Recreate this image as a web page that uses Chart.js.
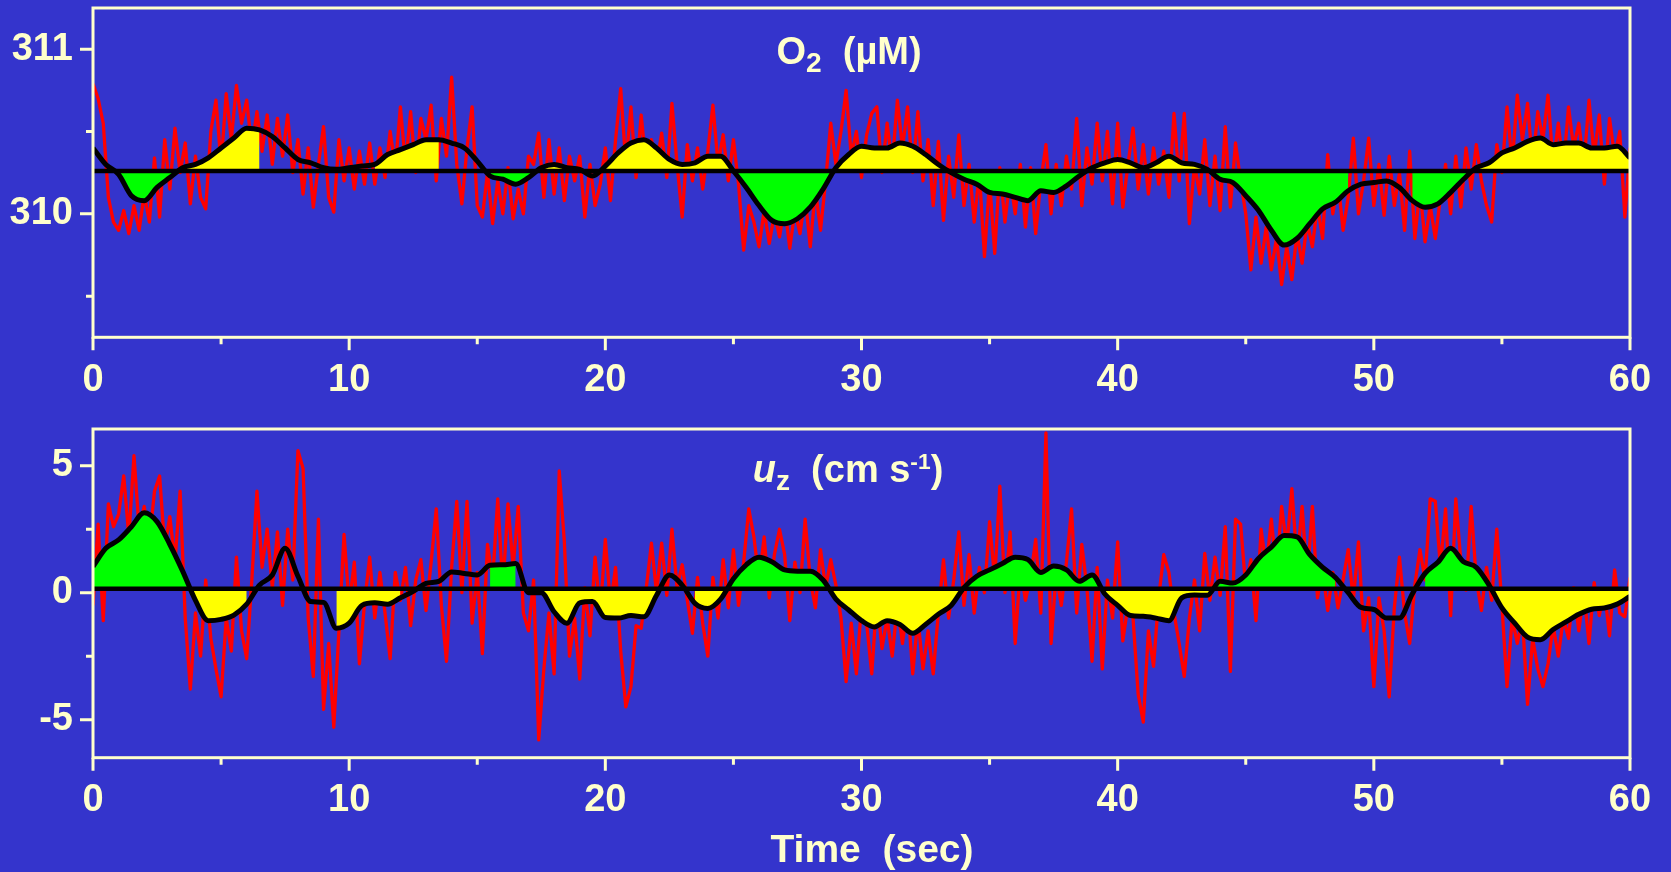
<!DOCTYPE html>
<html>
<head>
<meta charset="utf-8">
<script src="https://cdn.jsdelivr.net/npm/chart.js@4.4.0/dist/chart.umd.min.js"></script>
<style>
  body { margin: 0; background: #3434cc; width: 1671px; height: 872px; overflow: hidden; position: relative; }
  canvas { position: absolute; left: 0; }
  #c1 { top: 0; }
  #c2 { top: 421px; }
  .ttl { position: absolute; color: #ffffcc; font: bold 38px "Liberation Sans", Arial, sans-serif; white-space: pre; line-height: 38px; transform: translateX(-50%); }
  .ttl sub { font-size: 0.74em; vertical-align: -0.3em; line-height: 0; }
  .ttl sup { font-size: 0.6em; vertical-align: 0.55em; line-height: 0; }
</style>
</head>
<body>
<canvas id="c1" width="1671" height="420"></canvas>
<canvas id="c2" width="1671" height="451"></canvas>
<div class="ttl" style="left:849px; top:32px">O<sub>2</sub>  (µM)</div>
<div class="ttl" style="left:848px; top:450px"><i>u</i><sub>z</sub>  (cm s<sup>-1</sup>)</div>
<div class="ttl" style="left:872px; top:830px; font-size:39px">Time  (sec)</div>
<script>
var cream = '#ffffcc';

// sampling steps (sec)
var rawStep = 0.2;
var smoothStep = 0.5;

var xTicks = [0, 5, 10, 15, 20, 25, 30, 35, 40, 45, 50, 55, 60];
var o2Ticks = [309.5, 310, 310.5, 311];
var uzTicks = [-5, -2.5, 0, 2.5, 5];

var o2Base = 310.26;
var uzBase = 0.16;

// O2 raw signal, every 0.2 s
var o2Raw = [
  310.79, 310.70, 310.55, 310.10, 309.95,
  309.90, 310.02, 309.88, 310.05, 309.90,
  310.12, 309.95, 310.34, 309.98, 310.45,
  310.15, 310.52, 310.25, 310.43, 310.06,
  310.35, 310.10, 310.03, 310.50, 310.69,
  310.30, 310.73, 310.45, 310.78, 310.55,
  310.69, 310.40, 310.62, 310.38, 310.60,
  310.30, 310.58, 310.35, 310.60, 310.25,
  310.45, 310.12, 310.40, 310.04, 310.30,
  310.53, 310.10, 310.01, 310.45, 310.20,
  310.40, 310.15, 310.38, 310.18, 310.43,
  310.18, 310.40, 310.22, 310.50, 310.28,
  310.65, 310.30, 310.62, 310.25, 310.58,
  310.45, 310.66, 310.20, 310.58, 310.35,
  310.83, 310.30, 310.06, 310.40, 310.65,
  310.05, 309.98, 310.25, 309.94, 310.20,
  310.00, 310.28, 309.97, 310.15, 310.00,
  310.35, 310.30, 310.49, 310.10, 310.45,
  310.12, 310.40, 310.08, 310.35, 310.20,
  310.35, 309.98, 310.30, 310.05, 310.18,
  310.40, 310.08, 310.45, 310.76, 310.30,
  310.65, 310.22, 310.60, 310.28, 310.45,
  310.30, 310.49, 310.22, 310.67, 310.30,
  309.98, 310.42, 310.20, 310.40, 310.15,
  310.38, 310.66, 310.30, 310.48, 310.20,
  310.45, 310.18, 309.78, 310.05, 309.95,
  309.80, 310.02, 309.82, 310.00, 309.86,
  310.05, 309.79, 310.02, 309.88, 310.10,
  309.80, 310.15, 309.90, 310.20, 310.55,
  310.30, 310.50, 310.75, 310.35, 310.50,
  310.22, 310.48, 310.61, 310.65, 310.25,
  310.55, 310.30, 310.69, 310.40, 310.65,
  310.25, 310.62, 310.20, 310.45, 310.05,
  310.44, 309.96, 310.35, 310.10, 310.48,
  310.05, 310.30, 309.95, 310.25, 309.74,
  310.20, 309.76, 310.28, 309.95, 310.22,
  310.00, 310.30, 309.92, 310.28, 309.88,
  310.20, 310.42, 310.00, 310.30, 310.05,
  310.35, 310.15, 310.58, 310.05, 310.40,
  310.18, 310.55, 310.20, 310.50, 310.06,
  310.55, 310.04, 310.30, 310.52, 310.15,
  310.42, 310.12, 310.40, 310.18, 310.38,
  310.10, 310.61, 310.20, 310.61, 309.94,
  310.30, 310.12, 310.45, 310.05, 310.35,
  310.02, 310.53, 310.04, 310.43, 310.20,
  310.00, 309.66, 309.98, 309.70, 309.92,
  309.66, 309.85, 309.57, 309.80, 309.60,
  309.88, 309.70, 309.95, 309.80, 310.05,
  309.85, 310.36, 310.00, 310.20, 309.90,
  310.10, 310.46, 310.00, 310.20, 310.46,
  310.05, 310.30, 309.99, 310.35, 310.05,
  310.25, 309.90, 310.38, 309.85, 310.15,
  309.83, 310.05, 309.85, 310.10, 310.30,
  310.00, 310.35, 310.04, 310.40, 310.15,
  310.42, 310.20, 310.05, 309.95, 310.42,
  310.25, 310.65, 310.30, 310.72, 310.45,
  310.67, 310.30, 310.62, 310.45, 310.72,
  310.30, 310.55, 310.28, 310.65, 310.40,
  310.55, 310.30, 310.69, 310.35, 310.60,
  310.18, 310.58, 310.35, 310.50, 309.98,
  310.40
];

// O2 running mean, every 0.5 s
var o2Smooth = [
  310.40, 310.30, 310.24, 310.11, 310.08, 310.16, 310.22, 310.28, 310.30, 310.34,
  310.40, 310.46, 310.52, 310.51, 310.47, 310.40, 310.33, 310.31, 310.28, 310.27,
  310.28, 310.29, 310.30, 310.36, 310.39, 310.42, 310.45, 310.45, 310.43, 310.40,
  310.32, 310.23, 310.21, 310.18, 310.22, 310.28, 310.30, 310.28, 310.27, 310.23,
  310.29, 310.37, 310.43, 310.45, 310.40, 310.33, 310.30, 310.31, 310.35, 310.35,
  310.26, 310.16, 310.05, 309.96, 309.94, 309.97, 310.04, 310.15, 310.28, 310.36,
  310.41, 310.40, 310.40, 310.43, 310.41, 310.36, 310.30, 310.25, 310.21, 310.18,
  310.13, 310.12, 310.10, 310.08, 310.14, 310.13, 310.17, 310.23, 310.28, 310.31,
  310.33, 310.31, 310.28, 310.31, 310.35, 310.31, 310.30, 310.27, 310.21, 310.19,
  310.11, 310.02, 309.90, 309.81, 309.85, 309.94, 310.03, 310.07, 310.14, 310.18,
  310.19, 310.20, 310.16, 310.08, 310.04, 310.06, 310.13, 310.21, 310.28, 310.31,
  310.37, 310.40, 310.44, 310.46, 310.42, 310.43, 310.43, 310.40, 310.40, 310.41,
  310.34
];

// vertical velocity raw signal, every 0.2 s
var uzRaw = [
  -0.5, 2.7, -1.1, 3.5, 2.6,
  3.1, 4.6, 2.2, 5.4, 2.5,
  3.4, 2.0, 4.0, 4.6, 1.8,
  3.0, 1.2, 4.0, -1.0, -3.8,
  -0.8, -2.5, 0.5, -1.8, -3.0,
  -4.1, -1.0, -2.3, 1.4, -1.5,
  -2.6, 0.5, 4.0, 1.0, 2.5,
  0.2, 2.4, -0.5, 2.5, 0.5,
  5.6, 4.9, -1.0, -3.3, 2.9,
  -4.6, -2.0, -5.3, -1.5, 2.3,
  -0.5, 1.2, -2.8, -0.4, 1.4,
  -1.0, 0.8, -0.8, -2.6, 0.8,
  -0.3, 1.0, -1.3, 0.5, 1.3,
  -0.7, 1.2, 3.3, -0.5, -2.7,
  1.0, 3.6, 0.0, 3.6, -1.2,
  0.8, -2.4, 1.9, 0.5, 3.7,
  0.2, 3.5, 1.0, 3.4, -0.8,
  -1.5, 0.5, -5.8, -3.0, -0.8,
  -3.2, 4.8, 2.0, -2.5, -1.0,
  -3.4, 0.2, -1.7, 1.4, -0.8,
  2.1, -0.5, 1.0, -2.3, -4.5,
  -3.7, -1.3, -1.4, 0.2, 1.95,
  0.0, 1.95, -0.1, 2.5, 0.2,
  1.1, -0.3, -1.6, 0.6, -1.2,
  -2.5, 0.6, -1.0, 1.3, -0.6,
  1.7, -0.5, 1.2, 3.3, 2.2,
  0.5, 2.2, -0.2, 1.5, 2.5,
  1.5, -1.1, 1.2, 0.0, 2.9,
  0.5, -0.6, 1.7, 0.2, 1.3,
  0.3, -1.0, -3.5, -1.2, -3.2,
  -0.5, -1.2, -3.2, -0.2, -2.2,
  -1.0, -2.5, -0.5, -2.0, -0.4,
  -3.2, -1.0, -3.0, -1.5, -3.2,
  -0.8, 1.3, -1.0, 0.5, 2.4,
  -0.5, 1.5, -0.8, 1.0, 0.0,
  2.8, 0.5, 4.2, 0.0, 2.4,
  -2.0, 1.0, -0.3, 0.6, 2.1,
  -0.8, 6.3, -2.0, 0.8, -0.5,
  1.2, 3.3, -0.8, 1.9, 0.2,
  -2.7, 1.0, -3.0, 0.5, -1.0,
  2.0, -1.9, -0.5, -1.0, -4.0,
  -5.1, -1.5, -2.9, -0.2, 1.5,
  0.8, -0.8, -2.0, -3.3, -1.0,
  0.5, -1.5, 1.55, -0.3, 1.4,
  -0.1, 2.6, -3.1, 2.9, 2.7,
  0.2, 1.3, -1.1, 2.5, 1.0,
  2.9, 0.8, 3.4, 1.8, 4.1,
  1.2, 3.4, 0.5, 3.4, -0.2,
  0.9, -0.7, 0.8, -0.6, 0.5,
  1.7, -0.3, 2.0, -1.5, -0.2,
  -3.7, -0.2, -1.5, -4.1, -0.6,
  1.4, -0.8, -2.0, 0.3, 1.7,
  0.5, 3.7, 3.6, 1.0, 3.3,
  -0.9, 3.7, 1.2, 0.1, 3.4,
  0.5, -0.7, 1.0, -0.3, 2.5,
  -0.5, -3.7, -1.0, -2.0, -1.0,
  -4.4, -1.8, -3.0, -3.7, -2.8,
  -1.3, -2.5, -1.0, -1.8, 0.2,
  -1.5, 0.0, -2.0, 0.4, -0.9,
  0.1, -1.7, 0.9, -0.8, -0.95,
  0.6
];

// vertical velocity running mean, every 0.5 s
var uzSmooth = [
  1.03, 1.75, 2.08, 2.6, 3.15, 2.8, 1.9, 0.85, -0.3, -1.1,
  -1.05, -0.88, -0.45, 0.3, 0.7, 1.75, 0.65, -0.35, -0.38, -1.4,
  -1.2, -0.5, -0.4, -0.45, -0.2, 0.05, 0.37, 0.45, 0.82, 0.76,
  0.7, 1.08, 1.1, 1.15, 0.0, 0.0, -0.75, -1.2, -0.4, -0.35,
  -0.98, -1.0, -0.9, -0.95, -0.1, 0.7, 0.3, -0.42, -0.62, -0.25,
  0.55, 1.1, 1.4, 1.22, 0.9, 0.85, 0.85, 0.5, -0.25, -0.68,
  -1.1, -1.35, -1.1, -1.25, -1.6, -1.25, -0.85, -0.5, 0.2, 0.65,
  0.9, 1.15, 1.4, 1.3, 0.8, 1.05, 0.9, 0.45, 0.7, -0.05,
  -0.5, -0.9, -0.93, -1.0, -1.1, -0.2, -0.09, -0.1, 0.45, 0.38,
  0.7, 1.35, 1.8, 2.25, 2.2, 1.5, 1.0, 0.6, 0.0, -0.58,
  -0.66, -1.0, -1.0, -0.05, 0.76, 1.2, 1.75, 1.22, 1.0, 0.3,
  -0.6, -1.2, -1.75, -1.85, -1.45, -1.15, -0.85, -0.65, -0.6, -0.45,
  -0.15
];

// shaded stretches [start, end] in sec
var o2FillRanges = [[1, 3], [3.5, 6.5], [11, 13.5], [15.5, 17], [17.5, 18.5], [20, 49], [51.5, 60]];
var uzFillRanges = [[0, 6], [9.5, 12], [15.5, 16.5], [17.5, 22], [23.5, 24.5], [25, 48.5], [52, 60]];

Chart.defaults.font.family = '"Liberation Sans", Arial, sans-serif';

function toPoints(arr, step) {
    return arr.map(function(v, i) { return { x: Math.round(i * step * 100) / 100, y: v }; });
}

function toFillPoints(arr, step, ranges) {
    return arr.map(function(v, i) {
        var t = Math.round(i * step * 100) / 100;
        var on = ranges.some(function(r) { return t >= r[0] && t <= r[1]; });
        return { x: t, y: on ? v : null };
    });
}

// frame round the plot plus major / minor tick marks
function frameAndTicks(xMajor, yMajor) {
    return {
        id: 'frameAndTicks',
        afterDraw: function(chart) {
            var ctx = chart.ctx, a = chart.chartArea, sx = chart.scales.x, sy = chart.scales.y;
            ctx.save();
            ctx.strokeStyle = cream;
            ctx.lineWidth = 3;
            ctx.strokeRect(a.left, a.top, a.right - a.left, a.bottom - a.top);
            ctx.beginPath();
            sx.ticks.forEach(function(t) {
                var px = sx.getPixelForValue(t.value);
                var len = (t.value % xMajor === 0) ? 13 : 7;
                ctx.moveTo(px, a.bottom);
                ctx.lineTo(px, a.bottom + len);
            });
            sy.ticks.forEach(function(t) {
                var py = sy.getPixelForValue(t.value);
                var len = (Math.abs(t.value % yMajor) < 1e-9) ? 13 : 7;
                ctx.moveTo(a.left, py);
                ctx.lineTo(a.left - len, py);
            });
            ctx.stroke();
            ctx.restore();
        }
    };
}

function montarPainel(id, o) {
    var ctx = document.getElementById(id).getContext('2d');
    var tickFont = { size: 38, weight: 'bold' };
    return new Chart(ctx, {
        type: 'line',
        data: {
            datasets: [{
                data: [{ x: 0, y: o.base }, { x: 60, y: o.base }],
                borderColor: '#000000',
                borderWidth: 4.5,
                pointRadius: 0,
                order: 0
            }, {
                data: toPoints(o.smooth, smoothStep),
                borderColor: '#000000',
                borderWidth: 5,
                borderJoinStyle: 'round',
                cubicInterpolationMode: 'monotone',
                pointRadius: 0,
                order: 1
            }, {
                data: toFillPoints(o.smooth, smoothStep, o.ranges),
                borderColor: 'rgba(0,0,0,0)',
                borderWidth: 0,
                cubicInterpolationMode: 'monotone',
                pointRadius: 0,
                spanGaps: false,
                fill: { target: { value: o.base }, above: o.above, below: o.below },
                order: 2
            }, {
                data: toPoints(o.raw, rawStep),
                borderColor: '#ff0000',
                borderWidth: 3.3,
                borderJoinStyle: 'round',
                pointRadius: 0,
                order: 3
            }]
        },
        options: {
            responsive: false,
            animation: false,
            events: [],
            layout: { padding: { top: 8, right: 41, left: 0, bottom: 0 } },
            plugins: { legend: { display: false }, tooltip: { enabled: false } },
            scales: {
                x: {
                    type: 'linear',
                    min: 0,
                    max: 60,
                    afterBuildTicks: function(s) { s.ticks = xTicks.map(function(v) { return { value: v }; }); },
                    afterFit: function(s) { s.height = o.xHeight; s.paddingLeft = 0; s.paddingRight = 0; },
                    grid: { display: false, drawTicks: false },
                    border: { display: false },
                    ticks: {
                        color: cream,
                        font: tickFont,
                        padding: 20,
                        maxRotation: 0,
                        autoSkip: false,
                        callback: function(v) { return v % 10 === 0 ? String(v) : ''; }
                    }
                },
                y: {
                    type: 'linear',
                    min: o.min,
                    max: o.max,
                    afterBuildTicks: function(s) { s.ticks = o.ticks.map(function(v) { return { value: v }; }); },
                    afterFit: function(s) { s.width = 93; s.paddingTop = 0; s.paddingBottom = 0; },
                    grid: { display: false, drawTicks: false },
                    border: { display: false },
                    ticks: {
                        color: cream,
                        font: tickFont,
                        padding: 20,
                        callback: function(v) { return Math.abs(v % o.yMajor) < 1e-9 ? String(v) : ''; }
                    }
                }
            }
        },
        plugins: [frameAndTicks(10, o.yMajor)]
    });
}

montarPainel('c1', {
    raw: o2Raw, smooth: o2Smooth, base: o2Base, ranges: o2FillRanges,
    above: '#ffff00', below: '#00ff00',
    min: 309.25, max: 311.25, ticks: o2Ticks, yMajor: 1,
    xHeight: 82.7
});

montarPainel('c2', {
    raw: uzRaw, smooth: uzSmooth, base: uzBase, ranges: uzFillRanges,
    above: '#00ff00', below: '#ffff00',
    min: -6.5, max: 6.45, ticks: uzTicks, yMajor: 5,
    xHeight: 114.3
});
</script>
</body>
</html>
